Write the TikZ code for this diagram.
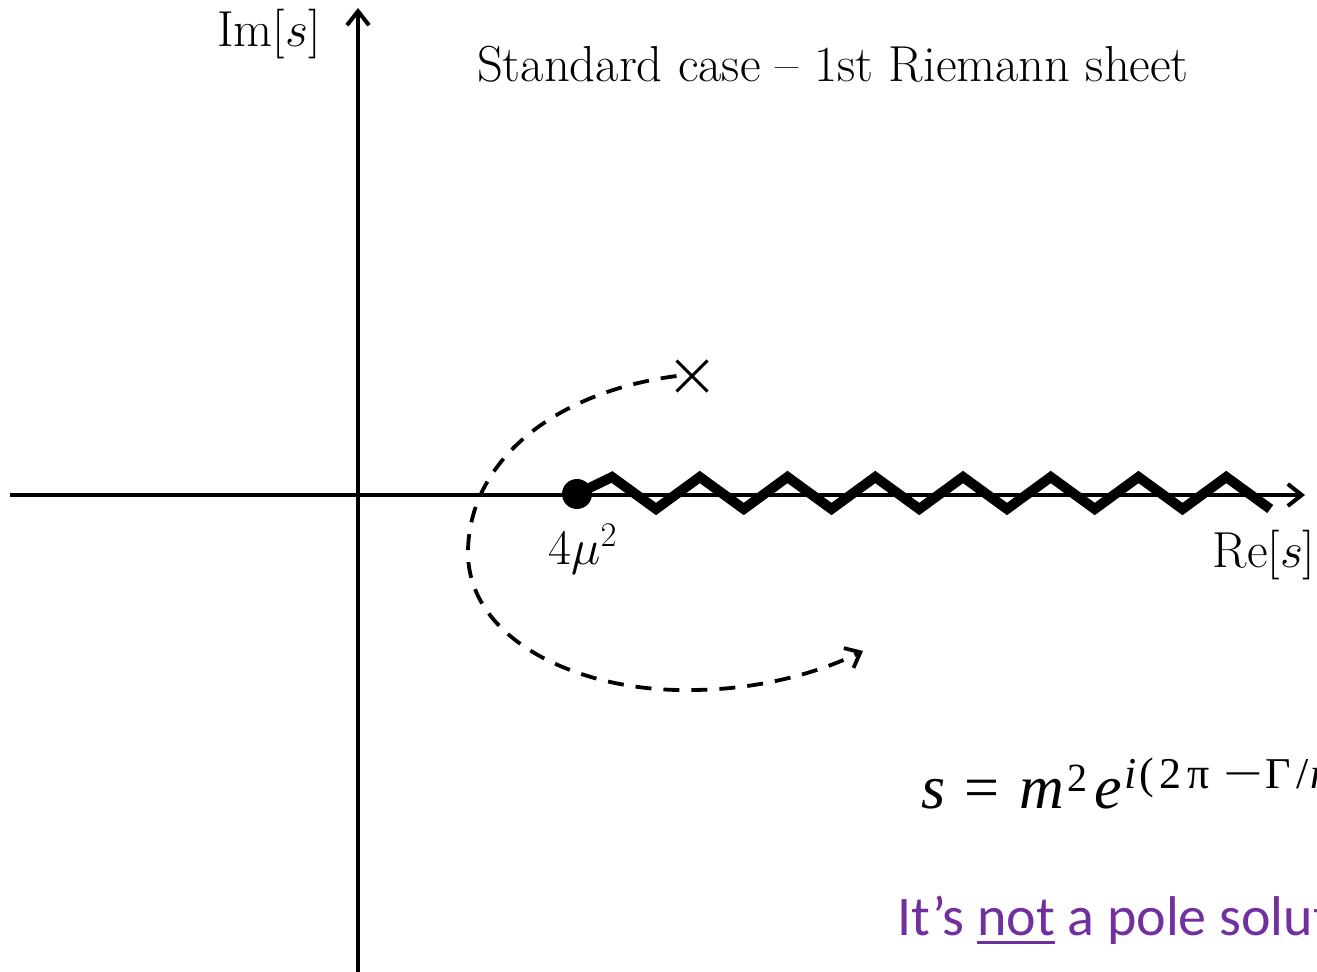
\documentclass[tikz,border=0pt]{standalone}
\usepackage{fontspec}
\usepackage{graphicx}
\newfontfamily\calib{Carlito}
\newfontfamily\eqfont{Liberation Serif}
\usetikzlibrary{arrows.meta,shapes.misc}
\definecolor{ppurple}{HTML}{7030A0}
\newcommand\myul[1]{\setbox0=\hbox{#1}\rlap{\rule[-4.5pt]{\wd0}{1.6pt}}\box0\relax}
\newcommand\gb[2]{\makebox[#1][l]{#2}}
\begin{document}
\begin{tikzpicture}[x=0.5pt,y=-0.5pt,
  lbl/.style={inner sep=0pt,font=\fontsize{25.3}{30}\selectfont},
  axis/.style={line width=2pt,-{Straight Barb[length=7pt,width=11pt,line width=2pt]}},
  zz/.style={line width=5pt,line join=miter},
  dsh/.style={line width=1.9pt,dash pattern=on 8pt off 6pt,-{Straight Barb[length=6.5pt,width=11pt,line width=1.9pt]}},
  polemark/.style={cross out,draw,line width=1.5pt,minimum size=14pt,inner sep=0pt}]
\useasboundingbox (0,0) rectangle (1317,972);
\clip (0,0) rectangle (1317,972);
% axes
\coordinate (xs) at (10,495);
\coordinate (xe) at (1305,495);
\coordinate (ys) at (358,975);
\coordinate (ye) at (358,8);
\draw[axis] (xs) -- (xe);
\draw[axis] (ys) -- (ye);
% labels
\node[lbl,anchor=base] (im) at (269,47) {Im$[s]$};
\node[lbl,anchor=base] (title) at (833,82) {Standard case -- 1st Riemann sheet};
\node[lbl,anchor=base] (rel) at (1264,568) {Re$[s]$};
% threshold and cut
\node[circle,fill,inner sep=0pt,minimum size=15pt] (th) at (577,494) {};
\node[lbl,anchor=base] (thl) at (583,565) {$4\mu^2$};
\draw[zz] (th.center) foreach \k in {0,...,7} { -- ({612+87.75*\k},477) -- ({656+87.75*\k},509) };
% pole
\node[polemark] (pole) at (692,376) {};
\coordinate (end) at (863,651);
\draw[dsh] (pole.west) .. controls (555,392) and (470,460) .. (468,550)
  .. controls (466,640) and (580,692) .. (690,690)
  .. controls (760,690) and (820,672) .. (end);
% formula and note
\node[anchor=base west,inner sep=0pt,font=\eqfont\fontsize{31}{38}\selectfont] (eq) at (921,808)
  {\gb{21.5pt}{\textit{s}}\gb{27.5pt}{=}\gb{24pt}{\textit{m}}\gb{13.5pt}{\raisebox{8.5pt}{\fontsize{20}{20}\selectfont 2}}\gb{15pt}{\textit{e}}%
   \raisebox{10pt}{\fontsize{22}{22}\selectfont\gb{7.5pt}{\textit{i}}\gb{10pt}{(}\gb{14pt}{2}\gb{18pt}{π}\gb{21pt}{\scalebox{1.6}[1]{−}}\gb{15.5pt}{Γ}\gb{7pt}{/}\textit{m}}};
\node[anchor=base west,inner sep=0pt,text=ppurple,font=\calib\fontsize{28}{34}\selectfont] (note) at (897,935)
  {It’s \myul{not} a pole solut};
\end{tikzpicture}
\end{document}
